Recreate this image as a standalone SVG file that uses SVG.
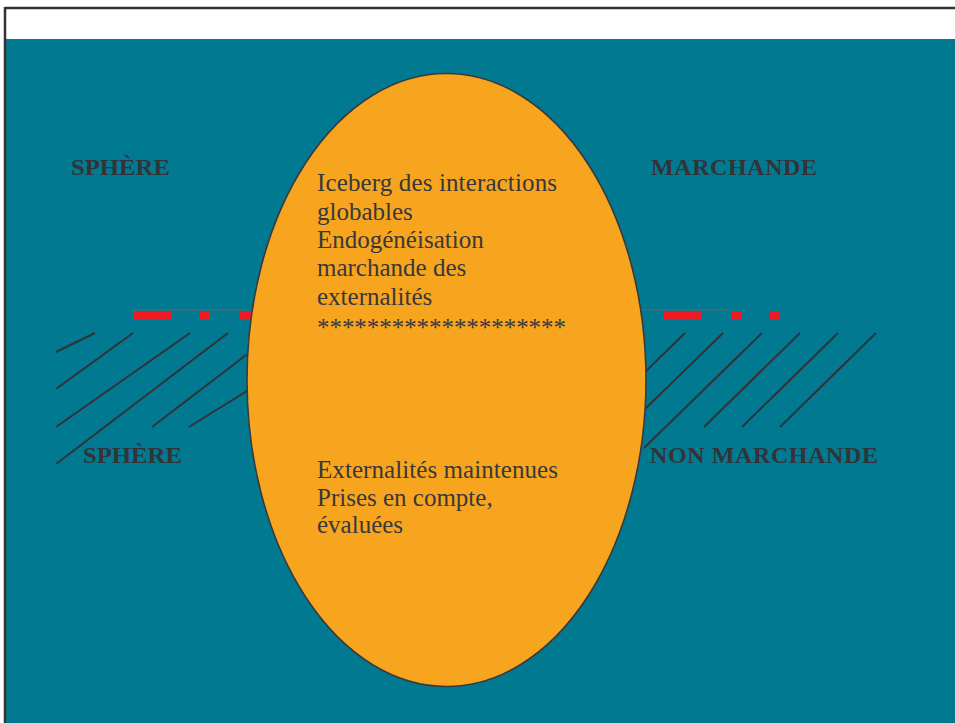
<svg xmlns="http://www.w3.org/2000/svg" width="955" height="723" viewBox="0 0 955 723">
<style>
.hatch{stroke:#313336;stroke-width:2;fill:none}
.red{fill:#ED1C24}
.thin{stroke:#5b6770;stroke-width:1.2}
.lbl{font-family:"Liberation Serif","Times New Roman",serif;font-weight:bold;font-size:24px;fill:#333438}
.body{font-family:"Liberation Serif","Times New Roman",serif;font-size:25px;fill:#38383a}
</style>
<rect x="0" y="0" width="955" height="723" fill="#ffffff"/>
<rect x="6" y="39" width="949" height="684" fill="#017A91"/>
<line x1="5" y1="8" x2="955" y2="8" stroke="#333333" stroke-width="2.5"/>
<line x1="5" y1="7" x2="5" y2="723" stroke="#333333" stroke-width="2.5"/>
<g id="left-hatch">
<line class="thin" x1="133" y1="310" x2="252" y2="310"/>
<rect class="red" x="133" y="311" width="39" height="9"/>
<rect class="red" x="200" y="311" width="10" height="9"/>
<rect class="red" x="239" y="311" width="14" height="9"/>
<line class="hatch" x1="56" y1="352" x2="95" y2="333"/>
<line class="hatch" x1="56" y1="389" x2="133" y2="333"/>
<line class="hatch" x1="56" y1="427" x2="190" y2="333"/>
<line class="hatch" x1="56" y1="464" x2="228" y2="333"/>
<line class="hatch" x1="152" y1="427" x2="250" y2="352"/>
<line class="hatch" x1="189" y1="427" x2="250" y2="389"/>
</g>
<g id="right-hatch">
<line class="thin" x1="640" y1="310" x2="732" y2="310"/>
<rect class="red" x="663" y="311" width="39" height="9"/>
<rect class="red" x="731" y="311" width="10" height="9"/>
<rect class="red" x="770" y="311" width="10" height="9"/>
<line class="hatch" x1="644" y1="373" x2="685" y2="333"/>
<line class="hatch" x1="644" y1="410" x2="723" y2="333"/>
<line class="hatch" x1="644" y1="448" x2="762" y2="333"/>
<line class="hatch" x1="704" y1="427" x2="800" y2="333"/>
<line class="hatch" x1="742" y1="427" x2="838" y2="333"/>
<line class="hatch" x1="780" y1="427" x2="876" y2="333"/>
</g>
<g id="labels">
<text class="lbl" x="71" y="175" textLength="99" lengthAdjust="spacingAndGlyphs">SPHÈRE</text>
<text class="lbl" x="651" y="175" textLength="166" lengthAdjust="spacing">MARCHANDE</text>
<text class="lbl" x="83" y="463" textLength="99" lengthAdjust="spacingAndGlyphs">SPHÈRE</text>
<text class="lbl" x="650" y="463" textLength="228" lengthAdjust="spacing">NON MARCHANDE</text>
</g>
<g id="iceberg">
<ellipse cx="446.5" cy="380" rx="199.5" ry="306.5" fill="#F7A51F" stroke="#3a3a3c" stroke-width="1.6"/>
<text class="body" x="317" y="191" textLength="240" lengthAdjust="spacing">Iceberg des interactions</text>
<text class="body" x="317" y="219.5">globables</text>
<text class="body" x="317" y="248">Endogénéisation</text>
<text class="body" x="317" y="276">marchande des</text>
<text class="body" x="317" y="304.5">externalités</text>
<text class="body" x="317" y="336" textLength="249" lengthAdjust="spacing">********************</text>
<text class="body" x="317" y="478" textLength="241" lengthAdjust="spacing">Externalités maintenues</text>
<text class="body" x="317" y="505.5">Prises en compte,</text>
<text class="body" x="317" y="533">évaluées</text>
</g>
</svg>
